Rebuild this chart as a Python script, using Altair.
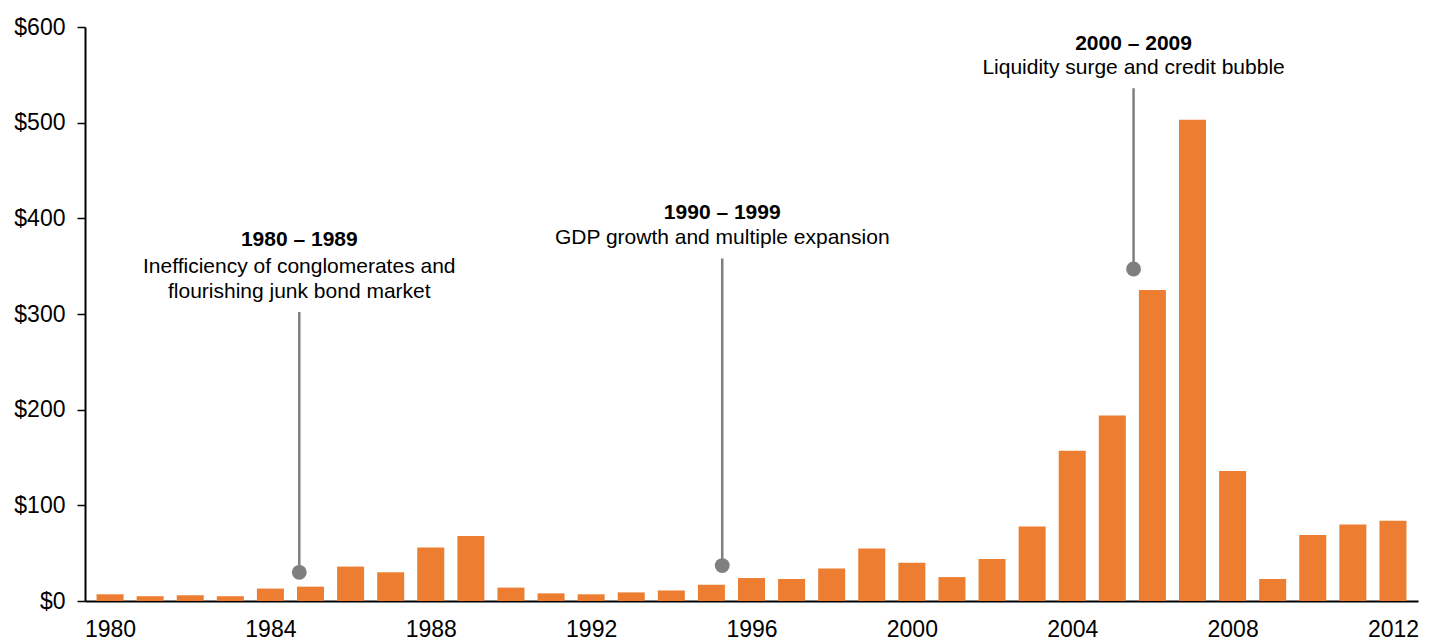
import altair as alt
import pandas as pd

years = list(range(1980, 2013))
values = [7, 5, 6, 5, 13, 15, 36, 30, 56, 68, 14, 8, 7, 9, 11, 17, 24, 23, 34, 55,
          40, 25, 44, 78, 157, 194, 325, 503, 136, 23, 69, 80, 84]

# annotation anchors (x in years, y in $ units)
ann_x = [1984.72, 1995.27, 2005.53]
ann_dot = [30, 37, 347]
ann_line_top = [302, 358, 536]
ann_title = ["1980 \u2013 1989", "1990 \u2013 1999", "2000 \u2013 2009"]
ann_title_y = [377, 406, 582]

body_x = [1984.72, 1984.72, 1995.27, 2005.53]
body_text = ["Inefficiency of conglomerates and", "flourishing junk bond market",
             "GDP growth and multiple expansion", "Liquidity surge and credit bubble"]
body_y = [349, 323, 379, 557]

x_ticks = list(range(1980, 2013, 4))
y_ticks = list(range(0, 601, 100))

FONT = "Liberation Sans"

df = pd.DataFrame({"year": years, "value": values})
ann = pd.DataFrame({"x": ann_x, "dot": ann_dot, "top": ann_line_top,
                    "title": ann_title, "ty": ann_title_y})
body = pd.DataFrame({"x": body_x, "text": body_text, "y": body_y})

xscale = alt.Scale(domain=[1979.5, 2012.5], nice=False, zero=False)
yscale = alt.Scale(domain=[0, 600], nice=False)

bars = alt.Chart(df).mark_bar(size=27, color="#ED7D31").encode(
    x=alt.X("year:Q", scale=xscale, title=None,
            axis=alt.Axis(values=x_ticks, format="d", ticks=False, grid=False,
                          labelFontSize=23, labelColor="black", labelFont=FONT,
                          labelPadding=17, domainColor="black", domainWidth=2,
                          labelFlush=False)),
    y=alt.Y("value:Q", scale=yscale, title=None,
            axis=alt.Axis(values=y_ticks, labelExpr="'$' + datum.value", grid=False,
                          tickSize=8, tickColor="black", tickWidth=1.5,
                          labelFontSize=23, labelColor="black", labelFont=FONT,
                          labelPadding=12, domainColor="black", domainWidth=2)),
)

base = alt.Chart(ann)
rules = base.mark_rule(color="#7F7F7F", strokeWidth=2.5).encode(
    x=alt.X("x:Q", scale=xscale), y=alt.Y("dot:Q", scale=yscale), y2="top:Q")
dots = base.mark_circle(color="#7F7F7F", size=220, opacity=1).encode(
    x=alt.X("x:Q", scale=xscale), y=alt.Y("dot:Q", scale=yscale))
titles = base.mark_text(font=FONT, fontSize=21, fontWeight="bold", color="black",
                        baseline="middle", align="center").encode(
    x=alt.X("x:Q", scale=xscale), y=alt.Y("ty:Q", scale=yscale), text="title:N")
bodies = alt.Chart(body).mark_text(font=FONT, fontSize=21, color="black",
                                   baseline="middle", align="center").encode(
    x=alt.X("x:Q", scale=xscale), y=alt.Y("y:Q", scale=yscale), text="text:N")

chart = alt.layer(bars, rules, dots, titles, bodies).properties(
    width=1333, height=574,
    autosize=alt.AutoSizeParams(type="none"),
    padding={"left": 85, "top": 27, "right": 11, "bottom": 39},
    background="white",
).configure_view(stroke=None)

chart.save("out.html", embed_options={"renderer": "svg", "actions": False})
